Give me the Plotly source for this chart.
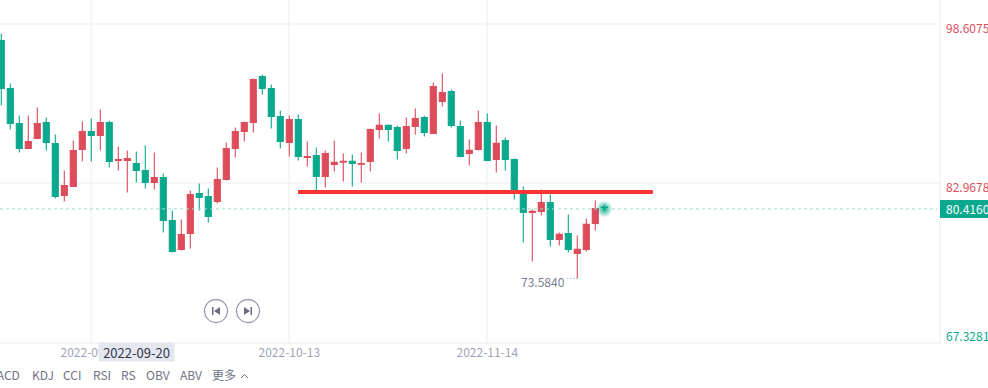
import plotly.graph_objects as go

dates = ["2022-08-29","2022-08-30","2022-08-31","2022-09-01","2022-09-02","2022-09-06","2022-09-07","2022-09-08","2022-09-09","2022-09-12",
"2022-09-13","2022-09-14","2022-09-15","2022-09-16","2022-09-19","2022-09-20","2022-09-21","2022-09-22","2022-09-23","2022-09-26",
"2022-09-27","2022-09-28","2022-09-29","2022-09-30","2022-10-03","2022-10-04","2022-10-05","2022-10-06","2022-10-07","2022-10-10",
"2022-10-11","2022-10-12","2022-10-13","2022-10-14","2022-10-17","2022-10-18","2022-10-19","2022-10-20","2022-10-21","2022-10-24",
"2022-10-25","2022-10-26","2022-10-27","2022-10-28","2022-10-31","2022-11-01","2022-11-02","2022-11-03","2022-11-04","2022-11-07",
"2022-11-08","2022-11-09","2022-11-10","2022-11-11","2022-11-14","2022-11-15","2022-11-16","2022-11-17","2022-11-18","2022-11-21",
"2022-11-22","2022-11-23","2022-11-25","2022-11-28","2022-11-29","2022-11-30","2022-12-01","2022-12-02"]
opens = [96.98,92.26,88.82,86.36,87.34,88.92,86.85,81.74,82.62,86.26,
88.03,87.64,88.92,85.18,85.18,84.88,84.20,83.02,83.51,79.28,
76.43,78.00,81.93,81.64,81.15,83.31,86.36,88.03,88.92,93.44,
92.26,89.51,86.95,89.21,85.47,85.67,83.61,84.79,85.02,85.09,
84.82,85.09,88.23,88.63,88.43,86.36,88.53,89.41,87.84,90.99,
91.97,88.53,85.87,86.27,88.92,85.28,87.15,85.28,81.84,80.07,
80.17,81.05,77.41,78.00,76.04,76.43,78.99,80.60]
highs = [97.64,92.75,89.61,89.61,90.39,89.41,87.74,84.20,87.15,89.02,
89.31,90.20,89.11,86.56,86.16,86.06,86.65,85.97,83.90,80.26,
79.38,82.23,82.92,82.43,84.49,86.95,88.43,89.02,93.25,93.64,
92.65,90.10,89.61,89.70,87.05,86.46,86.17,87.15,85.87,85.77,
85.97,88.33,89.81,88.72,88.63,89.41,90.30,89.61,92.86,93.74,
92.17,89.12,87.25,90.10,89.81,88.63,87.45,85.38,82.63,80.36,
82.33,81.84,78.10,79.87,77.81,79.48,81.25,80.86]
lows = [90.59,88.23,85.97,86.36,87.34,86.16,81.44,81.15,82.62,85.08,
85.08,86.16,84.49,84.20,82.03,83.02,82.43,82.33,78.10,76.13,
76.33,76.52,80.26,79.08,80.95,83.21,85.47,87.05,87.93,91.67,
88.33,86.36,85.57,85.18,84.59,82.23,82.53,84.10,83.12,82.63,
83.02,84.10,87.35,87.05,85.28,85.87,87.74,87.54,87.84,90.50,
88.43,85.48,84.69,86.17,85.11,84.00,84.20,81.35,77.12,75.25,
79.77,76.72,76.82,76.13,73.584,76.23,78.30,80.20]
closes = [92.26,88.82,86.36,87.05,88.82,86.95,81.64,82.72,86.16,88.03,
87.64,88.92,85.08,85.28,85.38,84.20,83.02,83.51,79.28,76.23,
77.90,81.84,81.54,79.67,83.31,86.36,88.03,88.92,93.15,92.26,
89.51,87.05,89.21,85.57,85.57,83.61,85.87,84.99,85.09,84.89,
84.89,88.23,88.63,88.23,86.17,88.53,89.31,87.94,92.46,91.87,
88.63,85.58,86.17,88.92,85.18,86.86,85.28,82.23,80.07,80.17,
81.05,77.41,77.91,76.43,76.43,78.89,80.46,80.416]

date_ticks = ["2022-09-13","2022-10-13","2022-11-14"]
price_ticks = [98.6075,82.9678,67.3281]
last_price = 80.4160
low_price = 73.5840
level_price = 82.08
indicator_tabs = ["MACD","KDJ","CCI","RSI","RS","OBV","ABV","更多"]

FONT = "Noto Sans CJK SC"
RED, GREEN = "#dc4c5b", "#0aa88d"
GRID = "#f6f6f8"
W, H, PW, PH = 988, 388, 939, 342
px = lambda x: x / PW
py = lambda y: 1 - y / PH

fig = go.Figure()
fig.add_trace(go.Candlestick(
    x=dates, open=opens, high=highs, low=lows, close=closes,
    increasing=dict(line=dict(color=RED, width=1.1), fillcolor=RED),
    decreasing=dict(line=dict(color=GREEN, width=1.1), fillcolor=GREEN),
    whiskerwidth=0, showlegend=False, hoverinfo="skip"))
fig.add_trace(go.Scatter(
    x=[dates[-1]], y=[last_price], mode="markers", showlegend=False, hoverinfo="skip",
    marker=dict(size=17, color="rgba(10,168,141,0.0)", line_width=0,
                gradient=dict(type="radial", color="rgba(10,168,141,0.95)"))))

shapes = []
def paper_shape(**k):
    shapes.append(dict(xref="paper", yref="paper", **k))
def circle(cx, cy, r, **k):
    paper_shape(type="circle", x0=px(cx-r), x1=px(cx+r), y0=py(cy+r), y1=py(cy-r), **k)
def path(pts, close=True, **k):
    s = "M" + " L".join(f"{px(a)},{py(b)}" for a, b in pts) + (" Z" if close else "")
    paper_shape(type="path", path=s, **k)

# last price line
shapes.append(dict(type="line", xref="paper", yref="y", x0=0, x1=0.998, y0=last_price, y1=last_price,
                   line=dict(color="#9ddccb", width=1, dash="3px,3px")))
# drawn level line
shapes.append(dict(type="line", xref="x", yref="y", x0=32.97, x1=72.4, y0=level_price, y1=level_price,
                   line=dict(color="#ff3535", width=4)))
# dotted leader to the low
shapes.append(dict(type="line", xref="x", yref="y", x0=62.9, x1=64, y0=low_price, y1=low_price,
                   line=dict(color="#8a8da0", width=1, dash="1px,2px")))
# last price tag
paper_shape(type="rect", x0=px(940), x1=px(988), y0=py(218), y1=py(200), fillcolor=GREEN, line_width=0)
# navigation buttons
for cx in (216, 248):
    circle(cx, 311, 11.5, line=dict(color="#9a9db0", width=1.3), fillcolor="rgba(255,255,255,0.9)")
ICON = "#6b6e80"
path([(213.5,307),(213.5,315),(212,315),(212,307)], fillcolor=ICON, line_width=0)
path([(220,307),(220,315),(214,311)], fillcolor=ICON, line_width=0)
path([(250.5,307),(250.5,315),(252,315),(252,307)], fillcolor=ICON, line_width=0)
path([(244,307),(244,315),(250,311)], fillcolor=ICON, line_width=0)
# chevron after the tabs
path([(241,378),(244.5,374.5),(248,378)], close=False, line=dict(color="#6f7285", width=1))

ann = []
price_colors = [RED, RED, GREEN]
price_shift = [-3.5, -3.5, 6.5]
for v, c, s in zip(price_ticks, price_colors, price_shift):
    ann.append(dict(xref="paper", yref="y", x=px(944), y=v, yshift=s, text=f"{v:.4f}", showarrow=False,
                    xanchor="left", yanchor="middle", font=dict(family=FONT, size=12, color=c)))
ann.append(dict(xref="paper", yref="y", x=px(944), y=last_price, text=f"{last_price:.4f}", showarrow=False,
                xanchor="left", yanchor="middle", font=dict(family=FONT, size=12, color="#ffffff")))
ann.append(dict(xref="x", yref="y", x=64, y=low_price, xshift=-10, yshift=-3, text=f"{low_price:.4f}", showarrow=False,
                xanchor="right", yanchor="middle", font=dict(family=FONT, size=12, color="#7a7d90")))
ann.append(dict(xref="paper", yref="paper", x=px(136), y=py(352), text=dates[15], showarrow=False,
                width=75, height=18, bgcolor="#e4e7f0", borderpad=0,
                xanchor="center", yanchor="middle", font=dict(family=FONT, size=13, color="#33364a")))
for t, x in zip(indicator_tabs, [-14, 31, 62, 92, 120, 145, 179, 211]):
    ann.append(dict(xref="paper", yref="paper", x=px(x), y=py(374), text=t, showarrow=False,
                    xanchor="left", yanchor="middle", xshift=-1, font=dict(family=FONT, size=12, color="#6f7285")))

fig.update_layout(
    width=W, height=H, autosize=False, margin=dict(l=0, r=W-PW, t=0, b=H-PH),
    paper_bgcolor="white", plot_bgcolor="white", boxgap=0.33, boxgroupgap=0, shapes=shapes, annotations=ann,
    font=dict(family=FONT, size=12),
    xaxis=dict(type="category", categoryorder="array", categoryarray=dates,
               range=[-0.144, 104.19], rangeslider=dict(visible=False),
               tickmode="array", tickvals=date_ticks, ticktext=date_ticks, ticks="", tickangle=0,
               ticklabelstandoff=-1,
               tickfont=dict(family=FONT, size=12, color="#a0a3b5"),
               showgrid=True, gridcolor=GRID, gridwidth=2, zeroline=False,
               showline=True, linecolor=GRID, linewidth=2),
    yaxis=dict(range=[67.32, 100.97], side="right", tickmode="array", tickvals=price_ticks,
               showticklabels=False, ticks="", showgrid=True, gridcolor=GRID, gridwidth=2, zeroline=False,
               showline=True, linecolor=GRID, linewidth=2),
)
fig.write_html("out.html", config=dict(displayModeBar=False),
               post_script="document.body.style.margin='0';document.body.style.overflow='hidden';")
